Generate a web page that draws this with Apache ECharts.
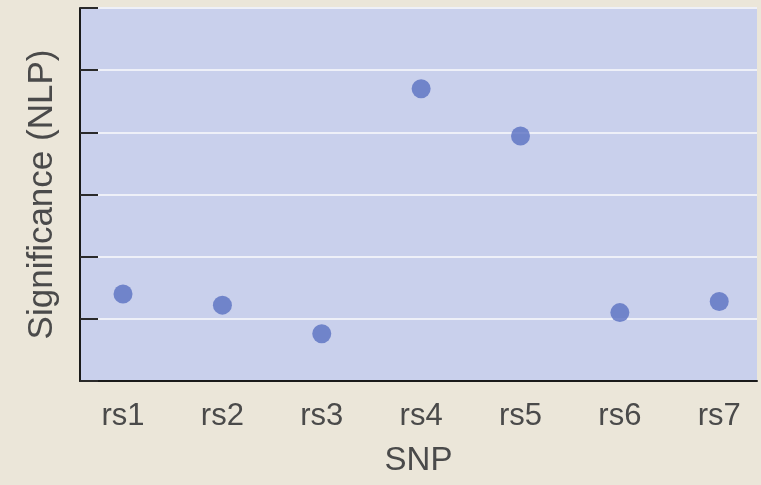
<!DOCTYPE html>
<html>
<head>
<meta charset="utf-8">
<script src="https://cdn.jsdelivr.net/npm/echarts@6/dist/echarts.min.js"></script>
<style>
html,body{margin:0;padding:0;background:#ebe6d9;}
#c{width:761px;height:485px;}
</style>
</head>
<body>
<div id="c"></div>
<script>
var categories = ['rs1', 'rs2', 'rs3', 'rs4', 'rs5', 'rs6', 'rs7'];
var nlpValues = [1.40, 1.22, 0.76, 4.70, 3.94, 1.10, 1.28];
var yTicks = [0, 1, 2, 3, 4, 5, 6];

var points = categories.map(function (c, i) { return [i, nlpValues[i]]; });
var catIdx = categories.map(function (c, i) { return i; });

var chart = echarts.init(document.getElementById('c'), null, {renderer: 'canvas'});
chart.setOption({
  backgroundColor: '#ebe6d9',
  animation: false,
  grid: {
    left: 80, right: 4, top: 8, bottom: 104,
    show: true, backgroundColor: '#c9d0ec', borderWidth: 0
  },
  xAxis: {
    type: 'value',
    min: -0.433, max: 6.38,
    name: 'SNP', nameLocation: 'middle', nameGap: 63,
    nameTextStyle: {fontFamily: 'Liberation Sans', fontSize: 33, color: '#4a4a4a'},
    axisLine: {show: true, onZero: false, lineStyle: {color: '#1a1a1a', width: 2}},
    axisTick: {show: false},
    splitLine: {show: false},
    axisLabel: {
      customValues: catIdx,
      margin: 20,
      fontFamily: 'Liberation Sans', fontSize: 31, color: '#4a4a4a',
      formatter: function (v) { return categories[Math.round(v)] || ''; }
    }
  },
  yAxis: {
    type: 'value',
    min: yTicks[0], max: yTicks[yTicks.length - 1], interval: 1,
    name: 'Significance (NLP)', nameLocation: 'middle', nameGap: 20,
    nameTextStyle: {fontFamily: 'Liberation Sans', fontSize: 35, color: '#4a4a4a'},
    axisLine: {show: true, onZero: false, lineStyle: {color: '#1a1a1a', width: 2}},
    axisTick: {show: true, inside: true, length: 18, lineStyle: {color: '#2a2a2a', width: 2}},
    axisLabel: {show: false},
    splitLine: {show: true, lineStyle: {color: '#eef0f8', width: 2}}
  },
  series: [{
    type: 'scatter',
    data: points,
    symbolSize: 19,
    itemStyle: {color: '#5a70c2'}
  }]
});
</script>
</body>
</html>
